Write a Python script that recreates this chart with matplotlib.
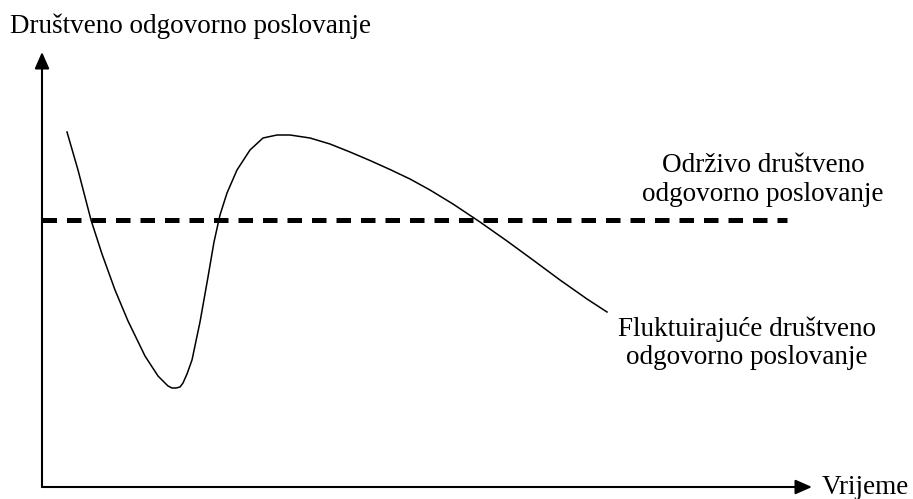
import matplotlib.pyplot as plt

plt.rcParams['font.family'] = ['Liberation Serif', 'DejaVu Serif']

# Fluktuirajuće DOP (vrijeme, razina)
curve_t = [25, 36, 49, 60, 73, 86, 103, 116, 126, 130, 134, 138, 141, 145, 150, 158,
           166, 172, 178, 185, 195, 208, 221, 235, 248, 268, 288, 308, 328, 348,
           368, 388, 411, 438, 465, 491, 518, 545, 565]
curve_v = [355, 317, 267, 233, 197, 166, 131, 111, 101, 99, 99, 100, 104, 113, 127, 165,
           210, 245, 272, 294, 317, 337, 349, 352, 352, 349, 343, 335, 326.5, 317.5,
           308, 297, 283, 265, 246, 227, 207, 188, 175]

# Održivo DOP
sustained_level = 267
sustained_t = [0, 745]

y_label = "Društveno odgovorno poslovanje"
x_label = "Vrijeme"
sustained_label = "Održivo društveno\nodgovorno poslovanje"
fluct_label = "Fluktuirajuće društveno\nodgovorno poslovanje"

fig = plt.figure(figsize=(9.13, 4.99), dpi=100)
ax = fig.add_axes([0, 0, 1, 1])
ax.set_xlim(-42, 871)
ax.set_ylim(-12, 487)
ax.axis('off')

# osi sa strelicama
arrow = dict(arrowstyle='-|>,head_length=0.5,head_width=0.22', mutation_scale=20,
             color='black', lw=1.5, shrinkA=0, shrinkB=0)
ax.annotate('', xy=(0, 435), xytext=(0, 0), arrowprops=arrow)
ax.annotate('', xy=(770, 0), xytext=(0, 0), arrowprops=arrow)

ax.plot(sustained_t, [sustained_level] * 2, color='black', lw=3.6,
        linestyle=(0, (2.9, 2.0)), solid_capstyle='butt', dash_capstyle='butt')
ax.plot(curve_t, curve_v, color='black', lw=1.1, solid_joinstyle='round')

fs = 19.5
ax.text(-32, 461, y_label, fontsize=fs, ha='left', va='center')
ax.text(780, 0, x_label, fontsize=fs, ha='left', va='center')
ax.text(721, 307, sustained_label, fontsize=fs, ha='center', va='center',
        multialignment='center', linespacing=1.18)
ax.text(705, 144, fluct_label, fontsize=fs, ha='center', va='center',
        multialignment='center', linespacing=1.18)

fig.savefig('out.png', dpi=100)
